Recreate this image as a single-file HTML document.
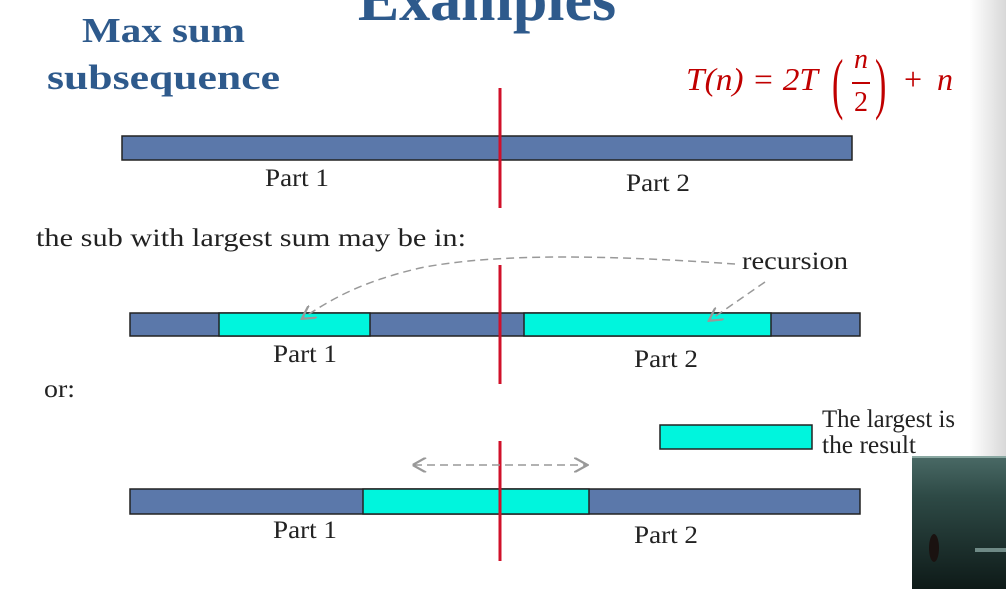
<!DOCTYPE html>
<html><head><meta charset="utf-8"><style>
html,body{margin:0;padding:0;background:#fff;width:1006px;height:589px;overflow:hidden}
svg{display:block;font-family:"Liberation Serif",serif}
</style></head><body>
<svg width="1006" height="589" viewBox="0 0 1006 589">
<defs>
<linearGradient id="edge" x1="0" x2="1"><stop offset="0" stop-color="#fff"/><stop offset="1" stop-color="#d8d8d8"/></linearGradient>
<linearGradient id="vid" x1="0" y1="0" x2="0" y2="1"><stop offset="0" stop-color="#4a6a66"/><stop offset="0.3" stop-color="#2e4a46"/><stop offset="1" stop-color="#0e1a18"/></linearGradient>
<marker id="ah" markerWidth="10" markerHeight="10" refX="8" refY="5" orient="auto"><path d="M0,0 L9,5 L0,10" fill="none" stroke="#999" stroke-width="1.5"/></marker>
<marker id="ahs" markerWidth="10" markerHeight="10" refX="1" refY="5" orient="auto"><path d="M9,0 L0,5 L9,10" fill="none" stroke="#999" stroke-width="1.5"/></marker>
</defs>
<rect x="970" y="0" width="36" height="589" fill="url(#edge)"/>
<text x="487" y="20" text-anchor="middle" font-size="62" font-weight="bold" fill="#2e5a8c">Examples</text>
<text x="82" y="42" font-size="35" font-weight="bold" fill="#2e5a8c" textLength="163" lengthAdjust="spacingAndGlyphs">Max sum</text>
<text x="47" y="89" font-size="35" font-weight="bold" fill="#2e5a8c" textLength="233" lengthAdjust="spacingAndGlyphs">subsequence</text>
<g fill="#c00000" font-style="italic" font-size="32">
<text x="686" y="90" textLength="132" lengthAdjust="spacingAndGlyphs">T(n) = 2T</text>
<text x="832" y="106" font-style="normal" font-size="68" transform="translate(832,0) scale(0.5,1) translate(-832,0)">(</text>
<text x="861" y="68" font-size="28" text-anchor="middle">n</text>
<rect x="852" y="82" width="18" height="2"/>
<text x="861" y="111" font-style="normal" font-size="28" text-anchor="middle">2</text>
<text x="875" y="106" font-style="normal" font-size="68" transform="translate(875,0) scale(0.5,1) translate(-875,0)">)</text>
<text x="904" y="90" font-style="normal">+</text><text x="937" y="90">n</text>
</g>
<g stroke="#222" stroke-width="1.5">
<rect x="122" y="136" width="730" height="24" fill="#5b78aa"/>
<rect x="130" y="313" width="730" height="23" fill="#5b78aa"/>
<rect x="219" y="313" width="151" height="23" fill="#00f5dd"/>
<rect x="524" y="313" width="247" height="23" fill="#00f5dd"/>
<rect x="660" y="425" width="152" height="24" fill="#00f5dd"/>
<rect x="130" y="489" width="730" height="25" fill="#5b78aa"/>
<rect x="363" y="489" width="226" height="25" fill="#00f5dd"/>
</g>
<g stroke="#d0102a" stroke-width="3">
<line x1="500" y1="88" x2="500" y2="208"/>
<line x1="500" y1="265" x2="500" y2="384"/>
<line x1="500" y1="441" x2="500" y2="561"/>
</g>
<g fill="none" stroke="#999" stroke-width="1.5" stroke-dasharray="8,5">
<path d="M735,264 C620,256 500,252 420,268 C360,282 330,300 303,318" marker-end="url(#ah)"/>
<path d="M765,282 L710,320" marker-end="url(#ah)"/>
<path d="M414,465 L586,465" marker-end="url(#ah)" marker-start="url(#ahs)"/>
</g>
<g font-size="25" fill="#222">
<text x="265" y="186" textLength="64" lengthAdjust="spacingAndGlyphs">Part 1</text>
<text x="626" y="191" textLength="64" lengthAdjust="spacingAndGlyphs">Part 2</text>
<text x="36" y="246" textLength="430" lengthAdjust="spacingAndGlyphs">the sub with largest sum may be in:</text>
<text x="742" y="269" textLength="106" lengthAdjust="spacingAndGlyphs">recursion</text>
<text x="273" y="362" textLength="64" lengthAdjust="spacingAndGlyphs">Part 1</text>
<text x="634" y="367" textLength="64" lengthAdjust="spacingAndGlyphs">Part 2</text>
<text x="44" y="397" textLength="31" lengthAdjust="spacingAndGlyphs">or:</text>
<text x="822" y="427" textLength="133" lengthAdjust="spacingAndGlyphs">The largest is</text>
<text x="822" y="453" textLength="94" lengthAdjust="spacingAndGlyphs">the result</text>
<text x="273" y="538" textLength="64" lengthAdjust="spacingAndGlyphs">Part 1</text>
<text x="634" y="543" textLength="64" lengthAdjust="spacingAndGlyphs">Part 2</text>
</g>
<g>
<rect x="912" y="456" width="94" height="133" fill="url(#vid)"/>
<rect x="912" y="456" width="94" height="2" fill="#8aa8a2"/>
<ellipse cx="934" cy="548" rx="5" ry="14" fill="#1a1210"/>
<rect x="975" y="548" width="31" height="4" fill="#6f8a86"/>
</g>
</svg>
</body></html>
